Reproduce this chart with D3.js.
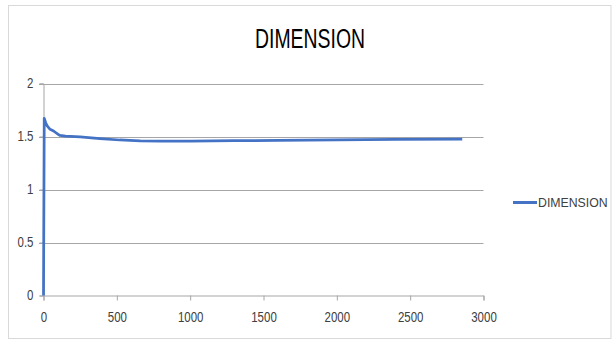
<!DOCTYPE html>
<html>
<head>
<meta charset="utf-8">
<script src="https://cdn.jsdelivr.net/npm/d3@7"></script>
<style>
  html, body { margin: 0; padding: 0; background: #fff; }
  svg { display: block; }
  text { font-family: "Liberation Sans", Arial, sans-serif; }
</style>
</head>
<body>
<svg id="chart" width="613" height="341"></svg>
<script>
const title = "DIMENSION";
const seriesName = "DIMENSION";
const xValues = [0, 5, 15, 25, 45, 65, 80, 100, 113, 150, 250, 385, 520, 660, 800, 1000, 1300, 1600, 2000, 2400, 2855];
const yValues = [0, 1.672, 1.63, 1.60, 1.568, 1.555, 1.54, 1.52, 1.51, 1.503, 1.497, 1.48, 1.467, 1.459, 1.457, 1.457, 1.46, 1.464, 1.468, 1.472, 1.476];
const xTicks = [0, 500, 1000, 1500, 2000, 2500, 3000];
const yTicks = [0, 0.5, 1, 1.5, 2];

const svg = d3.select("#chart");
const narrow = 0.82;
function condense(sel) {
  sel.each(function() {
    const w = this.getComputedTextLength();
    d3.select(this).attr("textLength", w * narrow).attr("lengthAdjust", "spacingAndGlyphs");
  });
}

// chart frame
svg.append("rect").attr("x", 8.5).attr("y", 5.5).attr("width", 602.5).attr("height", 333)
  .attr("fill", "#fff").attr("stroke", "#d9d9d9").attr("stroke-width", 1);

const x = d3.scaleLinear().domain([0, 3000]).range([43.5, 483.5]);
const y = d3.scaleLinear().domain([0, 2]).range([295.5, 83.5]);

// gridlines
svg.append("g").selectAll("line").data(yTicks.filter(d => d > 0)).join("line")
  .attr("x1", 39).attr("x2", x(3000))
  .attr("y1", d => Math.round(y(d)) + 0.5).attr("y2", d => Math.round(y(d)) + 0.5)
  .attr("stroke", "#a6a6a6").attr("stroke-width", 1);

// y axis
const yAxis = d3.axisLeft(y).tickValues(yTicks).tickSize(4).tickPadding(6).tickFormat(d3.format("~g"));
const gy = svg.append("g").attr("transform", `translate(${x(0)},0)`).call(yAxis);
gy.select(".domain").attr("stroke", "#a6a6a6");
gy.selectAll(".tick line").attr("stroke", "#a6a6a6");
gy.selectAll(".tick text").attr("font-size", 14).attr("fill", "#404040")
  .attr("x", -10).style("font-family", "'Liberation Sans', Arial, sans-serif").call(condense);

// x axis
const xAxis = d3.axisBottom(x).tickValues(xTicks).tickSize(5).tickPadding(12).tickFormat(d3.format("d"));
const gx = svg.append("g").attr("transform", `translate(0,${y(0)})`).call(xAxis);
gx.select(".domain").attr("stroke", "#a6a6a6");
gx.selectAll(".tick line").attr("stroke", "#a6a6a6");
gx.selectAll(".tick text").attr("font-size", 14).attr("fill", "#404040")
  .style("font-family", "'Liberation Sans', Arial, sans-serif").call(condense);

// data line
const data = xValues.map((v, i) => [v, yValues[i]]);
svg.append("path").datum(data)
  .attr("fill", "none").attr("stroke", "#4472C4").attr("stroke-width", 2.75)
  .attr("stroke-linejoin", "round").attr("stroke-linecap", "butt")
  .attr("d", d3.line().x(d => x(d[0])).y(d => y(d[1])));

// title
svg.append("text").attr("x", 310).attr("y", 48).attr("text-anchor", "middle")
  .attr("font-size", 27).attr("fill", "#000").text(title)
  .attr("textLength", 110).attr("lengthAdjust", "spacingAndGlyphs");

// legend
svg.append("line").attr("x1", 513).attr("x2", 537).attr("y1", 202.5).attr("y2", 202.5)
  .attr("stroke", "#4472C4").attr("stroke-width", 3);
svg.append("text").attr("x", 538).attr("y", 207).attr("font-size", 12.3).attr("fill", "#404040")
  .text(seriesName);
</script>
</body>
</html>
